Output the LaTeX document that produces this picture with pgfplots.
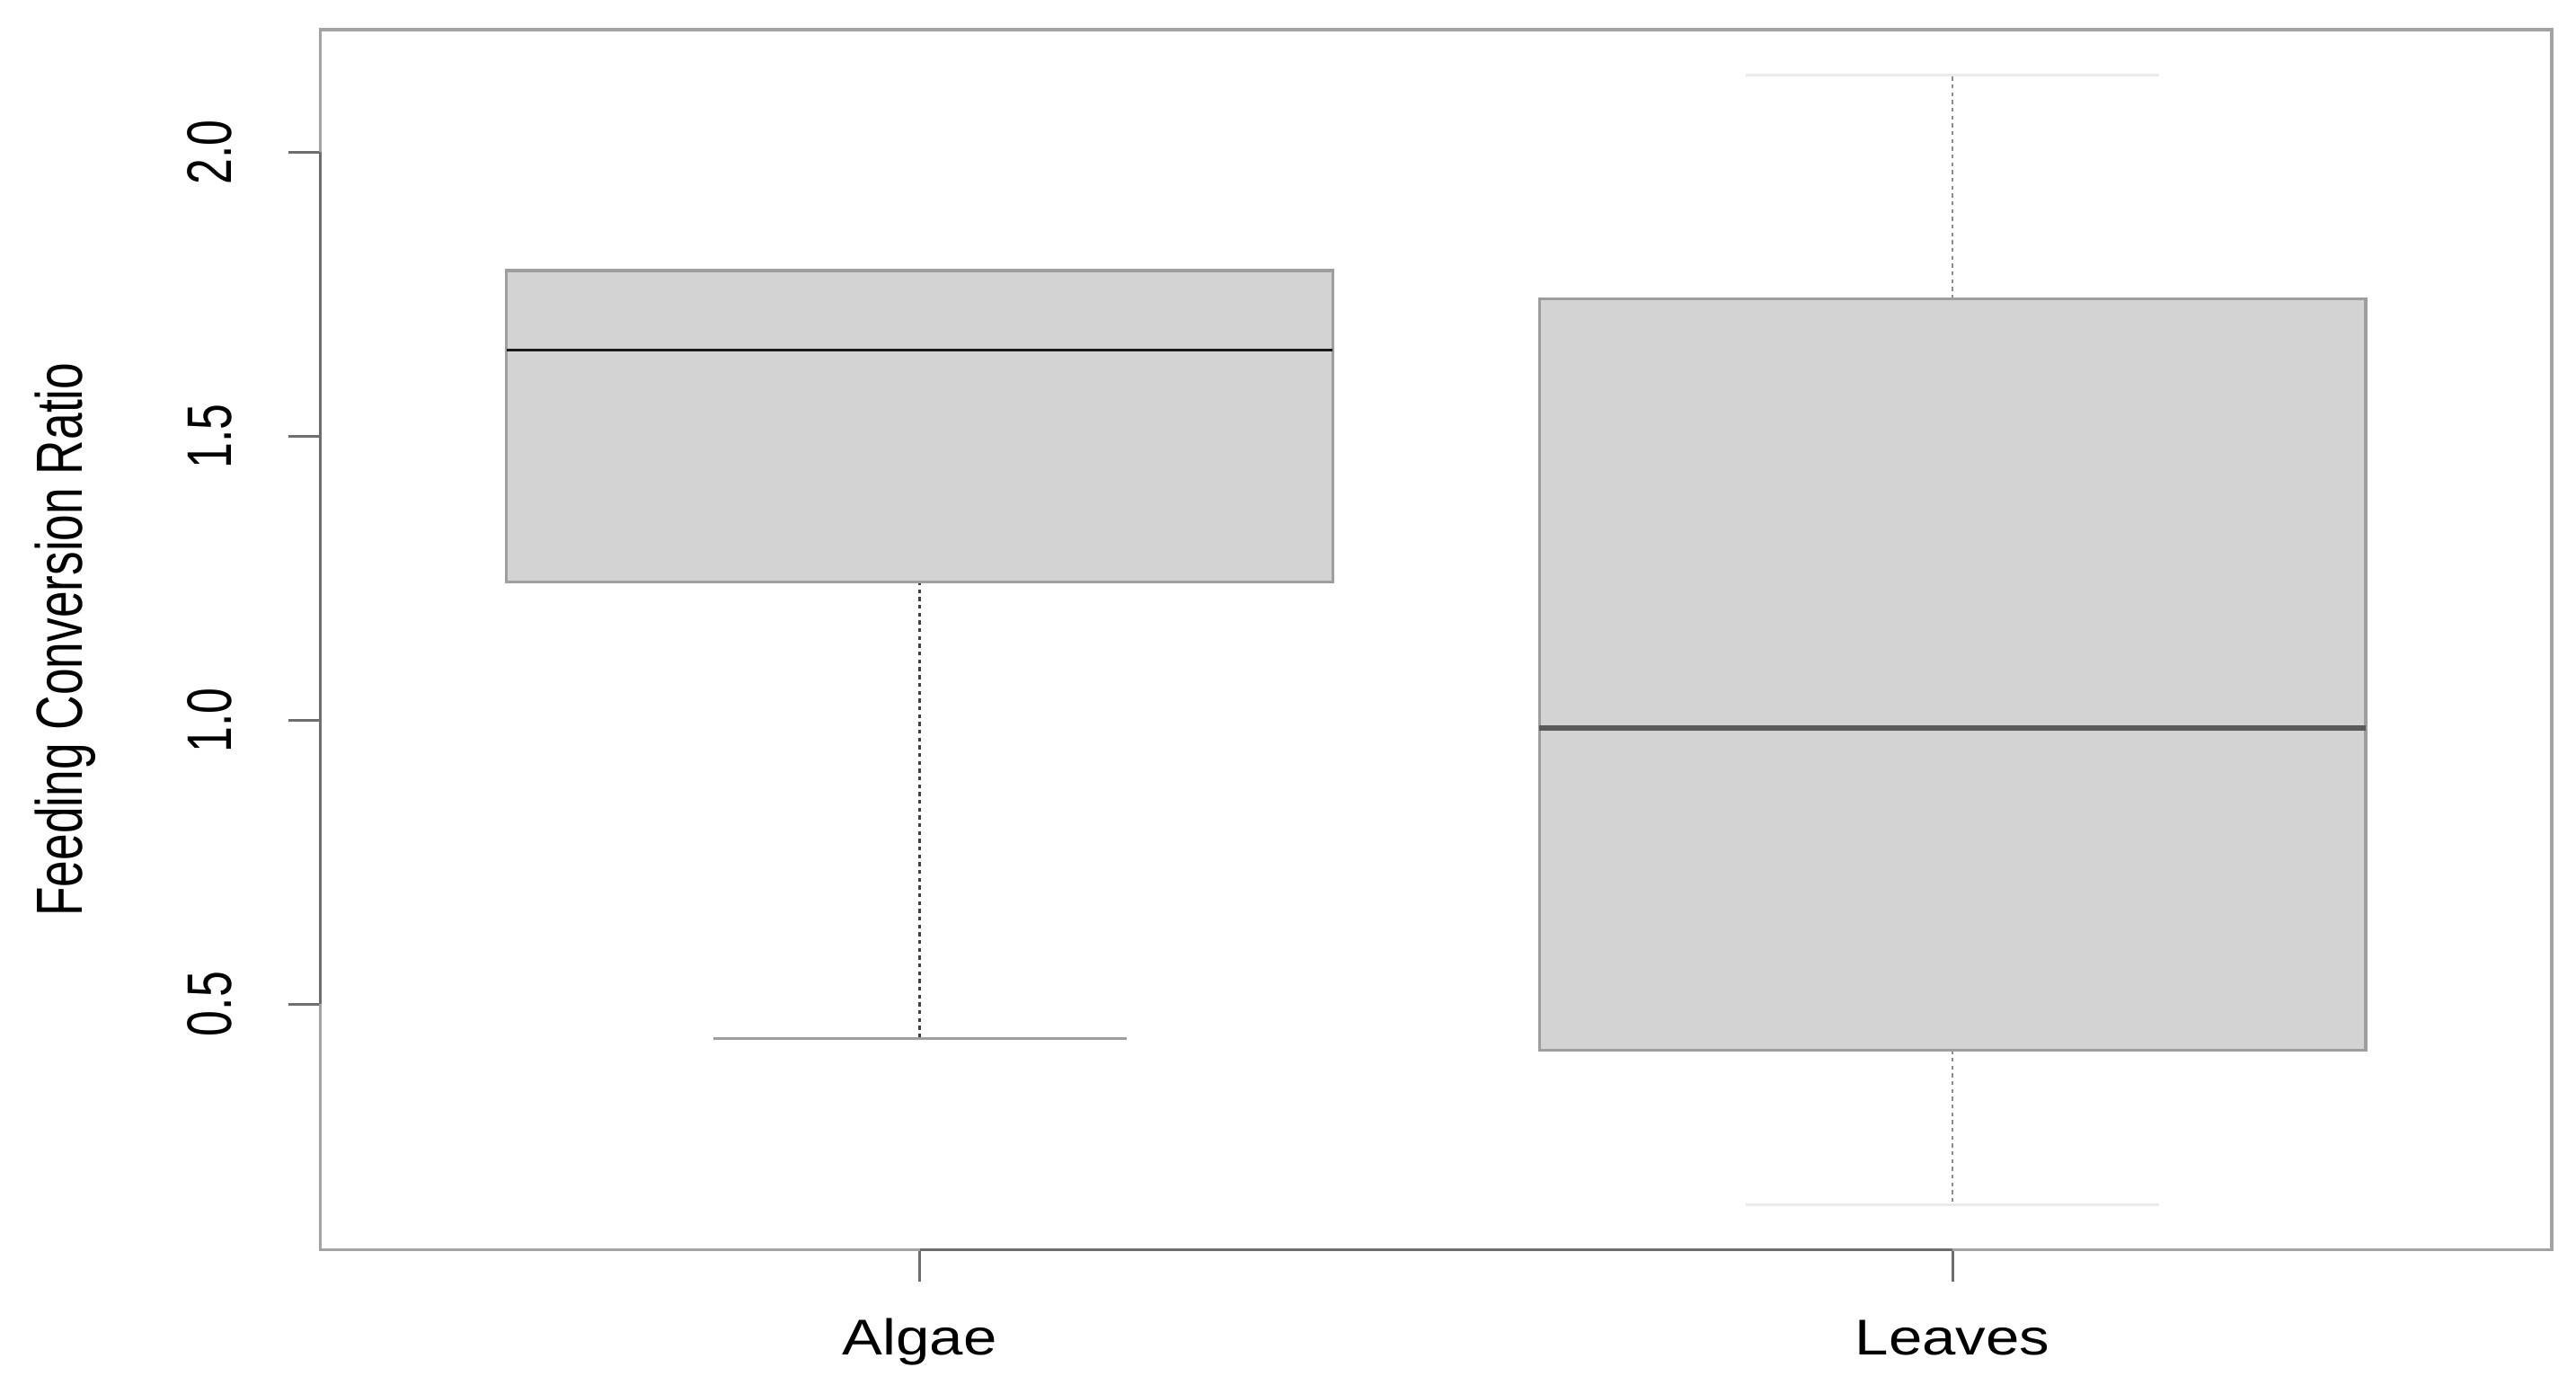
\documentclass[border=0pt]{standalone}
\usepackage{fontspec}
\setmainfont{Liberation Sans}
\usepackage{graphicx}
\usepackage{pgfplots}
\pgfplotsset{compat=1.18}
\usepgfplotslibrary{statistics}

\definecolor{frame}{HTML}{A3A3A3}
\definecolor{axisdark}{HTML}{6E6E6E}
\definecolor{boxfill}{HTML}{D3D3D3}
\definecolor{boxline}{HTML}{9E9E9E}

% rotated text is condensed along the string, horizontal text is widened
\newcommand{\ys}[1]{{\fontsize{9.7}{11}\selectfont\scalebox{0.74}[1]{#1}}}
\newcommand{\xs}[1]{{\fontsize{7.75}{9}\selectfont\scalebox{1.2}[1]{#1}}}

% separate the whisker line from its cap so each gets its own style
\tikzset{capA/.style={draw=boxline, line width=0.45pt},
         capB/.style={draw=black!8, line width=0.45pt},
         whiskercap/.style={capA}}
\pgfplotsset{
  boxplot/draw/lower whisker/.code={%
    \draw[/pgfplots/boxplot/every whisker/.try]
      (boxplot cs:\pgfplotsboxplotvalue{lower quartile},0) --
      (boxplot cs:\pgfplotsboxplotvalue{lower whisker},0);
    \draw[/tikz/whiskercap]
      (boxplot whisker cs:\pgfplotsboxplotvalue{lower whisker},0) --
      (boxplot whisker cs:\pgfplotsboxplotvalue{lower whisker},1);
  },
  boxplot/draw/upper whisker/.code={%
    \draw[/pgfplots/boxplot/every whisker/.try]
      (boxplot cs:\pgfplotsboxplotvalue{upper quartile},0) --
      (boxplot cs:\pgfplotsboxplotvalue{upper whisker},0);
    \draw[/tikz/whiskercap]
      (boxplot whisker cs:\pgfplotsboxplotvalue{upper whisker},0) --
      (boxplot whisker cs:\pgfplotsboxplotvalue{upper whisker},1);
  },
}

\begin{document}
\begin{tikzpicture}
\useasboundingbox (-49.4pt,-22.15pt) rectangle (347.45pt,192.42pt);
\begin{axis}[
  at={(0,0)}, anchor=south west,
  scale only axis, width=343.7pt, height=187.85pt,
  xmin=0.42, xmax=2.58, ymin=0.068, ymax=2.216,
  xtick={1,2}, xticklabels={\xs{Algae},\xs{Leaves}},
  ytick={0.5,1.0,1.5,2.0},
  yticklabels={\ys{0.5},\ys{1.0},\ys{1.5},\ys{2.0}},
  tick align=outside, xtick pos=bottom, ytick pos=left,
  major tick length=5pt,
  tick style={draw=axisdark, line width=0.4pt},
  axis line style={draw=frame, line width=0.45pt},
  xticklabel style={anchor=base, inner sep=0pt, outer sep=0pt, yshift=-11.2pt},
  yticklabel style={xshift=-8.8pt, rotate=90, anchor=base, inner sep=0pt, outer sep=0pt},
  every axis y label/.style={at={([xshift=-36.7pt]rel axis cs:0,0.5)},
    rotate=90, anchor=base, inner sep=0pt, outer sep=0pt},
  ylabel={{\fontsize{10.05}{12}\selectfont\scalebox{0.734}[1]{Feeding Conversion Ratio}}},
  clip=false,
  boxplot/draw direction=y,
  boxplot/box extend=0.8,
  boxplot/whisker extend=0.4,
  boxplot/every box/.style={fill=boxfill, draw=boxline, line width=0.45pt},
]
% darker axis lines between the first and last tick
\addplot[draw=axisdark, line width=0.45pt] coordinates {(1,0.068) (2,0.068)};
\addplot[draw=axisdark, line width=0.45pt] coordinates {(0.42,0.5) (0.42,2.0)};

% Algae
\addplot[
  boxplot prepared={draw position=1,
    lower whisker=0.439, lower quartile=1.244, median=1.652,
    upper quartile=1.792, upper whisker=1.792},
  boxplot/every whisker/.style={draw=black!75, line width=0.35pt, dash pattern=on 0.6pt off 0.6pt},
  boxplot/every median/.style={draw=black!90, line width=0.5pt},
  /tikz/whiskercap/.style={capA},
] coordinates {};

% Leaves
\addplot[
  boxplot prepared={draw position=2,
    lower whisker=0.147, lower quartile=0.419, median=0.986,
    upper quartile=1.742, upper whisker=2.136},
  boxplot/every whisker/.style={draw=black!45, line width=0.3pt, dash pattern=on 0.6pt off 0.6pt},
  boxplot/every median/.style={draw=black!65, line width=0.75pt},
  /tikz/whiskercap/.style={capB},
] coordinates {};
\end{axis}
\end{tikzpicture}
\end{document}
